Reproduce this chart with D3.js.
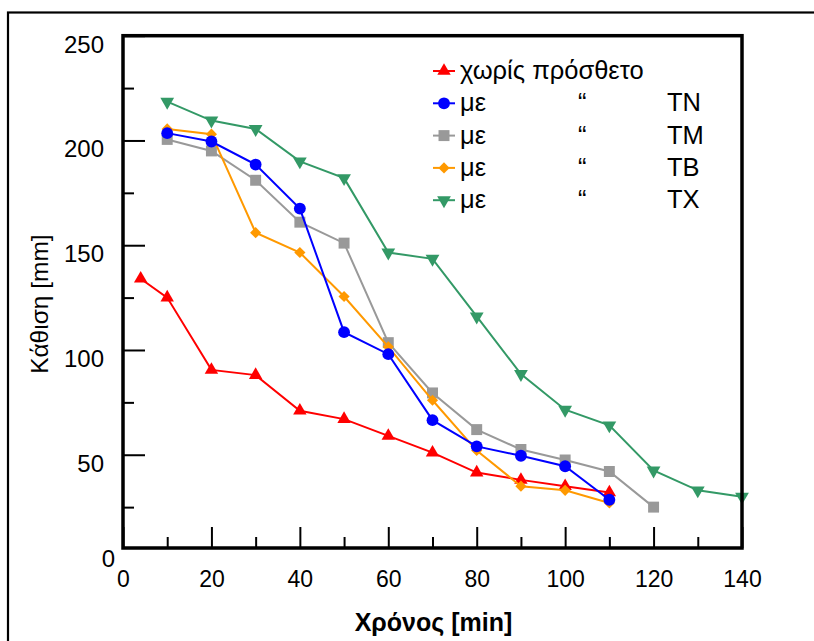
<!DOCTYPE html>
<html>
<head>
<meta charset="utf-8">
<script src="https://cdn.jsdelivr.net/npm/d3@7"></script>
<style>
  body { margin: 0; background: #fff; }
  svg { display: block; }
  text { font-family: "Liberation Sans", Arial, sans-serif; fill: #000; }
</style>
</head>
<body>
<svg id="chart" width="814" height="641"></svg>
<script>
// Settlement over time, without additive and with four additives
const timeNone   = [4, 10, 20, 30, 40, 50, 60, 70, 80, 90, 100, 110];
const valuesNone = [134, 125, 90.5, 88, 71, 67, 59, 51, 41.5, 38, 35, 32];

const timeTN   = [10, 20, 30, 40, 50, 60, 70, 80, 90, 100, 110];
const valuesTN = [203.5, 199.5, 188.5, 167.5, 108.5, 98, 66.5, 54, 49.5, 44.5, 28.5];

const timeTM   = [10, 20, 30, 40, 50, 60, 70, 80, 90, 100, 110, 120];
const valuesTM = [200.5, 195, 181, 161, 151, 103.5, 79.5, 62, 52.5, 47.5, 42, 25];

const timeTB   = [10, 20, 30, 40, 50, 60, 70, 80, 90, 100, 110];
const valuesTB = [205.5, 203, 156, 146.5, 125.5, 101.5, 76, 52, 35, 33, 27];

const timeTX   = [10, 20, 30, 40, 50, 60, 70, 80, 90, 100, 110, 120, 130, 140];
const valuesTX = [218.5, 209.5, 205.5, 190, 182, 146.5, 143.5, 116, 88.5, 71.5, 64, 42.5, 33, 30];

const xMajorTicks = [0, 20, 40, 60, 80, 100, 120, 140];
const xMinorTicks = [10, 30, 50, 70, 90, 110, 130];
const yMajorTicks = [50, 100, 150, 200, 250];
const yMinorTicks = [25, 75, 125, 175, 225];

const xTitle = "Χρόνος [min]";
const yTitle = "Κάθιση [mm]";

const series = [
  { key: "none", label: "χωρίς πρόσθετο", tag: "",   times: timeNone, values: valuesNone, color: "#ff0000", shape: "triUp" },
  { key: "TN",   label: "με",             tag: "TN", times: timeTN,   values: valuesTN,   color: "#0000ff", shape: "circle" },
  { key: "TM",   label: "με",             tag: "TM", times: timeTM,   values: valuesTM,   color: "#999999", shape: "square" },
  { key: "TB",   label: "με",             tag: "TB", times: timeTB,   values: valuesTB,   color: "#ff9900", shape: "diamond" },
  { key: "TX",   label: "με",             tag: "TX", times: timeTX,   values: valuesTX,   color: "#339966", shape: "triDown" }
];
// stacking order of the plotted lines
const drawOrder = ["none", "TM", "TB", "TN", "TX"];

const svg = d3.select("#chart");

// outer border of the figure
svg.append("rect")
  .attr("x", 8).attr("y", 12.5)
  .attr("width", 830).attr("height", 660)
  .attr("fill", "none").attr("stroke", "#000").attr("stroke-width", 2.2);

const plot = { left: 123, right: 742, top: 35.7, bottom: 548 };

const x = d3.scaleLinear().domain([0, 140]).range([plot.left, plot.right]);
const y = d3.scaleLinear().domain([0, 250]).range([559.5, plot.top]);

// symbol generator per marker shape
function symbolPath(shape) {
  switch (shape) {
    case "triUp":   return { d: d3.symbol().type(d3.symbolTriangle).size(78)(), rot: 0 };
    case "triDown": return { d: d3.symbol().type(d3.symbolTriangle).size(82)(), rot: 180 };
    case "circle":  return { d: d3.symbol().type(d3.symbolCircle).size(110)(), rot: 0 };
    case "square":  return { d: d3.symbol().type(d3.symbolSquare).size(120)(), rot: 0 };
    case "diamond": return { d: d3.symbol().type(d3.symbolSquare).size(62)(), rot: 45 };
  }
}

// axes (ticks point inward)
const axisLayer = svg.append("g");

const xMajor = axisLayer.append("g")
  .attr("transform", `translate(0,${plot.bottom})`)
  .call(d3.axisBottom(x).tickValues(xMajorTicks).tickSize(-21).tickPadding(0));
const xMinor = axisLayer.append("g")
  .attr("transform", `translate(0,${plot.bottom})`)
  .call(d3.axisBottom(x).tickValues(xMinorTicks).tickSize(-11).tickFormat(""));

const yMajor = axisLayer.append("g")
  .attr("transform", `translate(${plot.left},0)`)
  .call(d3.axisLeft(y).tickValues(yMajorTicks).tickSize(-22).tickPadding(19));
const yMinor = axisLayer.append("g")
  .attr("transform", `translate(${plot.left},0)`)
  .call(d3.axisLeft(y).tickValues(yMinorTicks).tickSize(-11).tickFormat(""));

axisLayer.selectAll(".domain").remove();
axisLayer.selectAll(".tick line").attr("stroke", "#000").attr("stroke-width", 2);

xMajor.selectAll(".tick text")
  .attr("y", 39).attr("dy", 0)
  .style("font-size", "23px");
yMajor.selectAll(".tick text")
  .attr("dy", 16.5)
  .style("font-size", "24px");

// zero label of the vertical axis
axisLayer.append("text")
  .attr("x", 115).attr("y", y(0) + 7.5)
  .attr("text-anchor", "end")
  .style("font-size", "24px")
  .text("0");

// data lines and markers
const line = d3.line().x(d => x(d[0])).y(d => y(d[1]));
const dataLayer = svg.append("g");

drawOrder.forEach(k => {
  const s = series.find(e => e.key === k);
  const pts = s.times.map((t, i) => [t, s.values[i]]);
  const g = dataLayer.append("g");
  g.append("path")
    .attr("d", line(pts))
    .attr("fill", "none")
    .attr("stroke", s.color)
    .attr("stroke-width", 2);
  const sym = symbolPath(s.shape);
  g.selectAll("path.mk").data(pts).join("path")
    .attr("class", "mk")
    .attr("d", sym.d)
    .attr("transform", d => `translate(${x(d[0])},${y(d[1])}) rotate(${sym.rot})`)
    .attr("fill", s.color);
});

// plot frame
svg.append("rect")
  .attr("x", plot.left).attr("y", plot.top)
  .attr("width", plot.right - plot.left).attr("height", plot.bottom - plot.top)
  .attr("fill", "none").attr("stroke", "#000").attr("stroke-width", 3.5);

// legend
const legend = svg.append("g");
series.forEach((s, i) => {
  const cy = 71 + i * 32.3;
  const row = legend.append("g").attr("transform", `translate(0,${cy})`);
  row.append("line")
    .attr("x1", 433).attr("x2", 455).attr("y1", 0).attr("y2", 0)
    .attr("stroke", s.color).attr("stroke-width", 2);
  const sym = symbolPath(s.shape);
  row.append("path")
    .attr("d", sym.d)
    .attr("transform", `translate(444,0) rotate(${sym.rot})`)
    .attr("fill", s.color);
  row.append("text")
    .attr("x", 460).attr("y", 8)
    .style("font-size", "25.5px")
    .text(s.label);
  if (s.tag) {
    row.append("text")
      .attr("x", 578).attr("y", 8)
      .style("font-size", "25.5px")
      .text("“");
    row.append("text")
      .attr("x", 667).attr("y", 8)
      .style("font-size", "25.5px")
      .text(s.tag);
  }
});

// axis titles
svg.append("text")
  .attr("x", (plot.left + plot.right) / 2 + 1).attr("y", 631)
  .attr("text-anchor", "middle")
  .style("font-size", "25px").style("font-weight", "bold")
  .text(xTitle);

svg.append("text")
  .attr("transform", "translate(48,304) rotate(-90)")
  .attr("text-anchor", "middle")
  .style("font-size", "24.5px")
  .text(yTitle);
</script>
</body>
</html>
